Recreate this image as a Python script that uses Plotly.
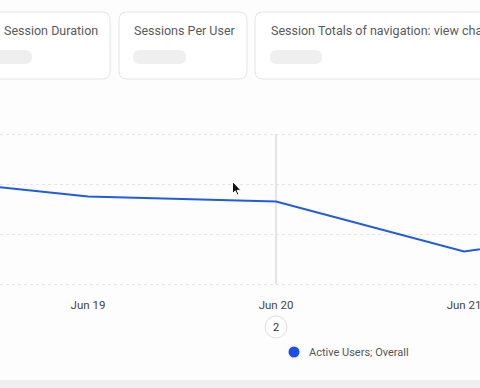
import plotly.graph_objects as go

# ---- data ----
dates = ["2024-06-18", "2024-06-19", "2024-06-20", "2024-06-21", "2024-06-22"]
active_users = [43, 35, 33, 13, 24]
tick_dates = ["2024-06-19", "2024-06-20", "2024-06-21"]
tick_labels = ["Jun 19", "Jun 20", "Jun 21"]
y_grid = [0, 20, 40, 60]
card_titles = ["Session Duration", "Sessions Per User", "Session Totals of navigation: view chart"]
series_name = "Active Users; Overall"
hover_date = "2024-06-20"
hover_count = "2"

W, H = 480, 388
def px(x):
    return x / W
def py(y):
    return 1 - y / H

def rrect(x0, y0, x1, y1, r):
    pts = (f"M {px(x0+r)},{py(y0)} L {px(x1-r)},{py(y0)} Q {px(x1)},{py(y0)} {px(x1)},{py(y0+r)} "
           f"L {px(x1)},{py(y1-r)} Q {px(x1)},{py(y1)} {px(x1-r)},{py(y1)} "
           f"L {px(x0+r)},{py(y1)} Q {px(x0)},{py(y1)} {px(x0)},{py(y1-r)} "
           f"L {px(x0)},{py(y0+r)} Q {px(x0)},{py(y0)} {px(x0+r)},{py(y0)} Z")
    return pts

FONT = "Roboto"
fig = go.Figure()
fig.add_trace(go.Scatter(x=dates, y=active_users, mode="lines", name=series_name,
                         line=dict(color="#1f5be3", width=2), showlegend=False,
                         hoverinfo="skip"))

shapes = []
annotations = []
# cards
cards = [(-20, 12, 110, 79), (119, 12, 247, 79), (255, 12, 500, 79)]
pills = [(-20, 50, 32, 64), (133, 50, 186, 64), (270, 50, 322, 64)]
title_x = [2, 132, 269]
for (x0, y0, x1, y1), (a0, b0, a1, b1), tx, t in zip(cards, pills, title_x, card_titles):
    shapes.append(dict(type="path", xref="paper", yref="paper", path=rrect(x0, y0, x1, y1, 8),
                       line=dict(color="#e4e4e4", width=1), fillcolor="#ffffff", layer="below"))
    shapes.append(dict(type="path", xref="paper", yref="paper", path=rrect(a0, b0, a1, b1, 7),
                       line=dict(width=0), fillcolor="#efefef", layer="below"))
    annotations.append(dict(x=px(tx), y=py(31), xref="paper", yref="paper", text=t,
                            showarrow=False, xanchor="left", yanchor="middle",
                            font=dict(family=FONT, size=12.5, color="#5a5a5a")))

# hover crosshair
shapes.append(dict(type="line", xref="x", yref="y", x0=hover_date, x1=hover_date,
                   y0=y_grid[0], y1=y_grid[-1], line=dict(color="#dcdcdc", width=1.5), layer="below"))
# bottom band
shapes.append(dict(type="rect", xref="paper", yref="paper", x0=0, x1=1, y0=0, y1=py(380),
                   fillcolor="#efefef", line=dict(width=0)))
# count badge
shapes.append(dict(type="circle", xref="paper", yref="paper", x0=px(265), x1=px(287),
                   y0=py(338), y1=py(316), fillcolor="#ffffff", line=dict(color="#dedede", width=1)))
annotations.append(dict(x=px(276), y=py(327), xref="paper", yref="paper", text=hover_count,
                        showarrow=False, xanchor="center", yanchor="middle",
                        font=dict(family=FONT, size=11, color="#333")))
# legend
shapes.append(dict(type="circle", xref="paper", yref="paper", x0=px(288.5), x1=px(299.5),
                   y0=py(357.5), y1=py(346.5), fillcolor="#1a4fe8", line=dict(width=0)))
annotations.append(dict(x=px(307), y=py(352), xref="paper", yref="paper", text=series_name,
                        showarrow=False, xanchor="left", yanchor="middle",
                        font=dict(family=FONT, size=11, color="#555")))
# mouse cursor
cx, cy = 232.5, 181.5
arrow = [(0, 0), (0, 12), (2.8, 9.4), (4.7, 13.6), (6.4, 12.9), (4.6, 8.8), (8.4, 8.8)]
path = "M " + " L ".join(f"{px(cx+a)},{py(cy+b)}" for a, b in arrow) + " Z"
shapes.append(dict(type="path", xref="paper", yref="paper", path=path,
                   fillcolor="#111111", line=dict(color="#ffffff", width=1)))

# plot area: value 0 at y=284px, 60 at y=134px; padded by 3 units (7.5px) each side
fig.update_layout(
    width=W, height=H, margin=dict(l=0, r=0, t=0, b=0),
    paper_bgcolor="#fdfdfd", plot_bgcolor="rgba(0,0,0,0)",
    shapes=shapes, annotations=annotations, showlegend=False,
    xaxis=dict(type="date", range=["2024-06-18 12:46", "2024-06-21 02:02"],
               tickvals=tick_dates, ticktext=tick_labels, showgrid=False, zeroline=False,
               showline=False, ticks="", ticklabelstandoff=5, ticklabeloverflow="allow",
               tickfont=dict(family=FONT, size=11.5, color="#444"), fixedrange=True),
    yaxis=dict(range=[-3, 63], domain=[py(291.5), py(126.5)], tickvals=y_grid,
               showticklabels=False, showgrid=True, gridcolor="#e6e6e6", griddash="dot",
               gridwidth=1, zeroline=False, showline=False, fixedrange=True),
)
fig.write_html("out.html", config={"displayModeBar": False},
               post_script="document.body.style.margin='0';document.body.style.overflow='hidden';")
